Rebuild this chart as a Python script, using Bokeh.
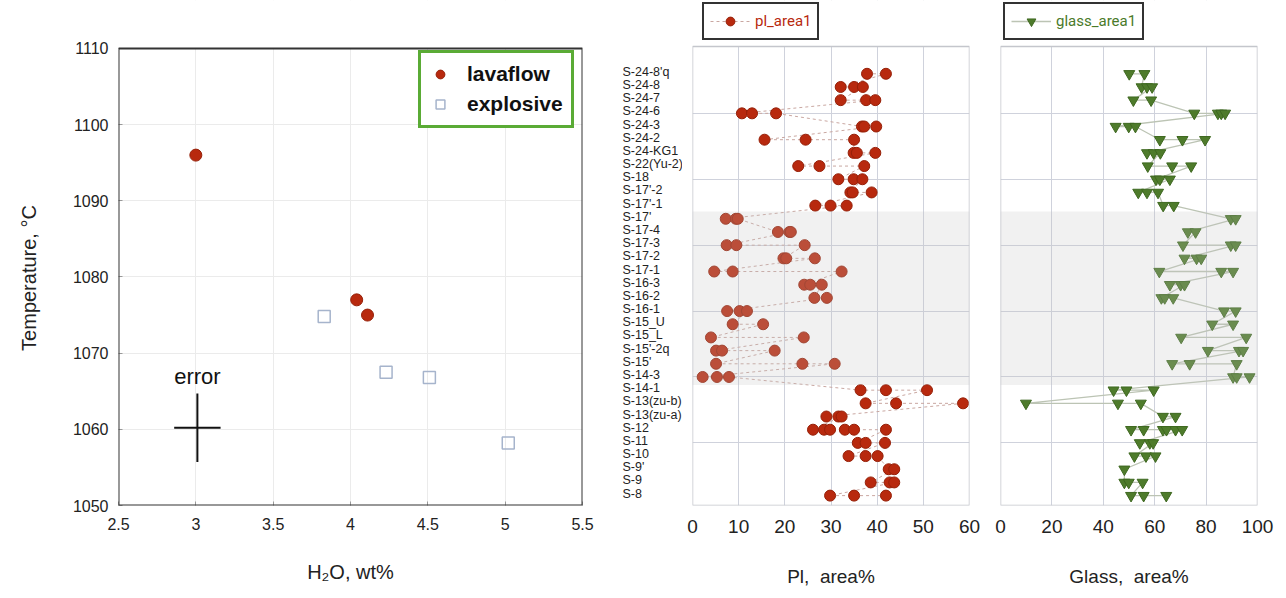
from bokeh.plotting import figure
from bokeh.layouts import row
from bokeh.models import (Range1d, FixedTicker, Legend, LegendItem, BoxAnnotation,
                          ColumnDataSource)
from bokeh.embed import file_html
from bokeh.resources import INLINE
from bokeh.core.properties import value

# ---------------- data: left panel ----------------
h2o_lava = [3.0, 4.04, 4.11]
temp_lava = [1096.0, 1077.0, 1075.0]
h2o_expl = [3.83, 4.23, 4.51, 5.02]
temp_expl = [1074.8, 1067.5, 1066.8, 1058.2]
err_h2o = [3.01]
err_temp = [1060.2]
err_dh2o = 0.15
err_dtemp = 4.5
x_ticks_left = [2.5, 3, 3.5, 4, 4.5, 5, 5.5]
y_ticks_left = [1050, 1060, 1070, 1080, 1090, 1100, 1110]

# ---------------- data: stratigraphic panels ----------------
samples = ["S-24-8'q", "S-24-8", "S-24-7", "S-24-6", "S-24-3", "S-24-2", "S-24-KG1",
           "S-22(Yu-2)", "S-18", "S-17'-2", "S-17'-1", "S-17'", "S-17-4", "S-17-3",
           "S-17-2", "S-17-1", "S-16-3", "S-16-2", "S-16-1", "S-15_U", "S-15_L",
           "S-15'-2q", "S-15'", "S-14-3", "S-14-1", "S-13(zu-b)", "S-13(zu-a)",
           "S-12", "S-11", "S-10", "S-9'", "S-9", "S-8"]

pl_area1 = [
    [37.8, 41.9], [32.1, 35.0, 36.9], [32.1, 37.6, 39.6], [10.7, 12.9, 18.1],
    [36.7, 37.2, 39.8], [15.6, 24.5, 35.0], [34.9, 35.6, 39.6], [22.9, 27.5, 37.2],
    [31.6, 34.9, 36.8], [34.2, 34.7, 38.8], [26.6, 29.9, 33.4], [7.2, 9.4, 9.8],
    [18.5, 21.0, 21.3], [7.4, 9.5, 24.3], [19.7, 20.3, 26.5], [4.7, 8.7, 32.3],
    [24.2, 25.5, 28.0], [26.4, 29.1], [7.5, 10.2, 11.8], [8.7, 15.3],
    [4.0, 24.1], [5.1, 6.4, 17.8], [5.1, 23.8, 30.8], [2.2, 5.3, 7.9],
    [36.4, 41.9, 50.8], [37.5, 44.1, 58.6], [29.0, 31.6, 32.3],
    [26.1, 28.5, 29.8, 33.0, 35.0, 41.9], [35.8, 37.5, 41.7], [33.8, 37.5, 40.1],
    [42.5, 43.7], [38.6, 42.7, 43.7], [29.8, 35.0, 41.9],
]

glass_area1 = [
    [50.1, 56.0], [54.9, 57.0, 59.0], [51.7, 58.6], [75.4, 84.6, 85.9, 87.4],
    [44.8, 49.9, 52.5], [62.0, 70.8, 79.6], [57.0, 59.6, 62.2], [57.3, 66.8, 74.2],
    [60.5, 62.0, 65.9], [53.6, 57.0, 61.3], [63.3, 67.4], [89.6, 91.5],
    [72.9, 75.9], [71.0, 89.6, 91.5], [71.6, 76.3, 78.1], [61.8, 85.9, 90.5],
    [65.9, 70.1, 71.6], [62.6, 63.9, 67.2], [87.0, 91.5], [82.4, 90.5],
    [70.3, 95.6], [80.7, 92.8, 94.4], [66.8, 73.6, 91.9], [90.5, 91.9, 96.9],
    [44.0, 49.0, 59.6], [9.9, 45.7, 54.6], [63.2, 68.1],
    [50.8, 55.7, 63.2, 64.6, 68.1, 70.7], [54.2, 58.1, 59.4], [52.1, 56.6, 60.3],
    [48.2], [48.2, 49.9, 55.3], [50.8, 55.7, 64.5],
]

band_rows = [10.45, 23.6]          # shaded interval (row index units)
pl_ticks = [0, 10, 20, 30, 40, 50, 60]
glass_ticks = [0, 20, 40, 60, 80, 100]
row_grid = [3, 8, 13, 18, 23, 28]

FONT = "Liberation Sans"
H = 598
RED = "#b8290e"
RED_D = "#962008"
GREEN = "#4e7b2b"
GREEN_D = "#3e6820"
TXT = "#222222"

B_TOP, B_BOT = 0, 93            # shared frame borders (frame spans 0..505 px)
FRAME_H = H - B_TOP - B_BOT
ROW_TOP = -2.07                 # visible box top (row units) for strat panels
T_TOP = 1116.3                  # frame top in temperature units (box top is 1110)


def flatten(vals):
    xs, ys = [], []
    for r, vs in enumerate(vals):
        for v in vs:
            xs.append(v)
            ys.append(r)
    return xs, ys


# ================= LEFT PANEL =================
p1 = figure(width=600, height=H, x_range=Range1d(2.5, 5.5), y_range=Range1d(1050, T_TOP),
            output_backend="svg", toolbar_location=None,
            min_border_left=118, min_border_right=18, min_border_top=B_TOP,
            min_border_bottom=B_BOT)
p1.outline_line_color = None
p1.xaxis.ticker = FixedTicker(ticks=x_ticks_left)
p1.yaxis.ticker = FixedTicker(ticks=y_ticks_left)
p1.xaxis.major_label_overrides = {3: "3", 4: "4", 5: "5"}
for ax in (p1.xaxis[0], p1.yaxis[0]):
    ax.axis_line_color = None
    ax.major_tick_in = 4
    ax.major_tick_out = 0
    ax.major_tick_line_color = "#999999"
    ax.minor_tick_line_color = None
    ax.major_label_text_font = FONT
    ax.major_label_text_font_size = "16px"
    ax.major_label_text_color = TXT
    ax.axis_label_text_font = FONT
    ax.axis_label_text_font_size = "20px"
    ax.axis_label_text_font_style = "normal"
    ax.axis_label_text_color = TXT
p1.xaxis.axis_label = "H\u2082O, wt%"
p1.yaxis.axis_label = "Temperature, \u00b0C" + "\u00a0" * 9
p1.xaxis.major_label_standoff = 12
p1.yaxis.major_label_standoff = 10
p1.xaxis.axis_label_standoff = 28
p1.yaxis.axis_label_standoff = 30
p1.grid.grid_line_color = "#ebebeb"

# blank strip above the plotting box, then the box outline
p1.add_layout(BoxAnnotation(bottom=y_ticks_left[-1], fill_color="white", fill_alpha=1,
                            line_color=None))
p1.add_layout(BoxAnnotation(left=x_ticks_left[0], right=x_ticks_left[-1],
                            bottom=y_ticks_left[0], top=y_ticks_left[-1],
                            fill_color=None, line_color="#333333", line_alpha=1,
                            line_width=2))

r_lava = p1.scatter(h2o_lava, temp_lava, marker="circle", size=12,
                    fill_color=RED, line_color=RED_D)
r_expl = p1.scatter(h2o_expl, temp_expl, marker="square", size=12,
                    fill_color=None, line_color="#a6b4cc", line_width=1.5)

# error cross
p1.segment(x0=[x - err_dh2o for x in err_h2o], y0=err_temp,
           x1=[x + err_dh2o for x in err_h2o], y1=err_temp, line_color="#111111", line_width=2)
p1.segment(x0=err_h2o, y0=[t - err_dtemp for t in err_temp],
           x1=err_h2o, y1=[t + err_dtemp for t in err_temp], line_color="#111111", line_width=2)
p1.text(x=err_h2o, y=[t + err_dtemp for t in err_temp], text=["error"],
        text_font=value(FONT), text_font_size="22px", text_color="#111111",
        text_align="center", text_baseline="bottom", y_offset=-5)

leg1 = Legend(items=[LegendItem(label="lavaflow", renderers=[r_lava]),
                     LegendItem(label="explosive", renderers=[r_expl])],
              location=(300, FRAME_H - 128))
leg1.margin = 0
leg1.padding = 8
leg1.spacing = 4
leg1.glyph_width = 22
leg1.glyph_height = 26
leg1.label_height = 26
leg1.label_standoff = 16
leg1.label_text_font = FONT
leg1.label_text_font_size = "21px"
leg1.label_text_font_style = "bold"
leg1.label_text_color = "#111111"
leg1.border_line_color = "#5aab35"
leg1.border_line_alpha = 1
leg1.border_line_width = 3
leg1.background_fill_color = "white"
leg1.background_fill_alpha = 1
p1.add_layout(leg1)

# ================= SAMPLE LABELS =================
yr = Range1d(32.75, -5.56)
rows = list(range(len(samples)))

pl = figure(width=82, height=H, x_range=Range1d(0, 82), y_range=yr,
            output_backend="svg", toolbar_location=None,
            min_border_left=0, min_border_right=0, min_border_top=B_TOP,
            min_border_bottom=B_BOT)
pl.axis.visible = False
pl.grid.visible = False
pl.outline_line_color = None
pl.text(x=[22] * len(samples), y=rows, text=samples, text_font=value(FONT),
        text_font_size="12.5px", text_color=TXT, text_baseline="middle", y_offset=-2)


def strat_fig(width, xr, ticks, left, right):
    p = figure(width=width, height=H, x_range=xr, y_range=yr,
               output_backend="svg", toolbar_location=None,
               min_border_left=left, min_border_right=right,
               min_border_top=B_TOP, min_border_bottom=B_BOT)
    p.yaxis.visible = False
    p.outline_line_color = None
    p.xaxis.ticker = FixedTicker(ticks=ticks)
    p.xgrid.ticker = FixedTicker(ticks=ticks)
    p.ygrid.ticker = FixedTicker(ticks=row_grid)
    p.grid.grid_line_color = "#cfd2dc"
    p.grid.grid_line_width = 1
    ax = p.xaxis[0]
    ax.axis_line_color = None
    ax.major_tick_line_color = None
    ax.minor_tick_line_color = None
    ax.major_label_text_font = FONT
    ax.major_label_text_font_size = "19px"
    ax.major_label_text_color = TXT
    ax.major_label_standoff = 8
    ax.axis_label_text_font = FONT
    ax.axis_label_text_font_size = "19px"
    ax.axis_label_text_font_style = "normal"
    ax.axis_label_text_color = TXT
    ax.axis_label_standoff = 30
    # blank strip above the box (legend area) and the box outline
    p.add_layout(BoxAnnotation(bottom=ROW_TOP, fill_color="white", fill_alpha=1,
                               line_color=None))
    p.add_layout(BoxAnnotation(left=ticks[0], right=ticks[-1], top=ROW_TOP,
                               fill_color=None, line_color="#c4c6cc", line_alpha=1,
                               line_width=1.5))
    return p


def add_band(p):
    p.add_layout(BoxAnnotation(top=band_rows[0], bottom=band_rows[1], fill_color="#c4c4c4",
                               fill_alpha=0.24, line_color=None, level="overlay"))


def top_legend(p, label, renderers, color, x_off):
    leg = Legend(items=[LegendItem(label=label, renderers=renderers)],
                 location=(x_off, FRAME_H - 40))
    leg.margin = 0
    leg.padding = 6
    leg.glyph_width = 40
    leg.glyph_height = 22
    leg.label_height = 22
    leg.label_standoff = 5
    leg.label_text_font = "Roboto"
    leg.label_text_font_size = "15px"
    leg.label_text_color = color
    leg.border_line_color = "#333333"
    leg.border_line_alpha = 1
    leg.border_line_width = 2
    leg.background_fill_color = "white"
    leg.background_fill_alpha = 1
    p.add_layout(leg)


# ================= PL PANEL =================
pm = strat_fig(303, Range1d(0, 60), pl_ticks, 10, 16)
pm.xaxis.axis_label = "Pl,\u00a0 area%"
px, py = flatten(pl_area1)
src_pl = ColumnDataSource(dict(x=px, y=py))
l_pl = pm.line("x", "y", source=src_pl, line_color="#c9a7a1", line_dash="3 3", line_width=1)
s_pl = pm.scatter("x", "y", source=src_pl, marker="circle", size=11,
                  fill_color=RED, line_color=RED_D, line_width=1)
add_band(pm)
top_legend(pm, "pl_area1", [l_pl, s_pl], RED, 10)

# ================= GLASS PANEL =================
pg = strat_fig(301, Range1d(0, 100), glass_ticks, 15, 29)
pg.xaxis.axis_label = "Glass,\u00a0 area%"
gx, gy = flatten(glass_area1)
src_g = ColumnDataSource(dict(x=gx, y=gy))
l_g = pg.line("x", "y", source=src_g, line_color="#bcc4b4", line_width=1.3)
s_g = pg.scatter("x", "y", source=src_g, marker="inverted_triangle", size=11,
                 fill_color=GREEN, line_color=GREEN_D, line_width=1)
add_band(pg)
top_legend(pg, "glass_area1", [l_g, s_g], "#4a7a2a", 3)

layout = row(p1, pl, pm, pg)
open("out.html", "w").write(file_html(layout, INLINE))
